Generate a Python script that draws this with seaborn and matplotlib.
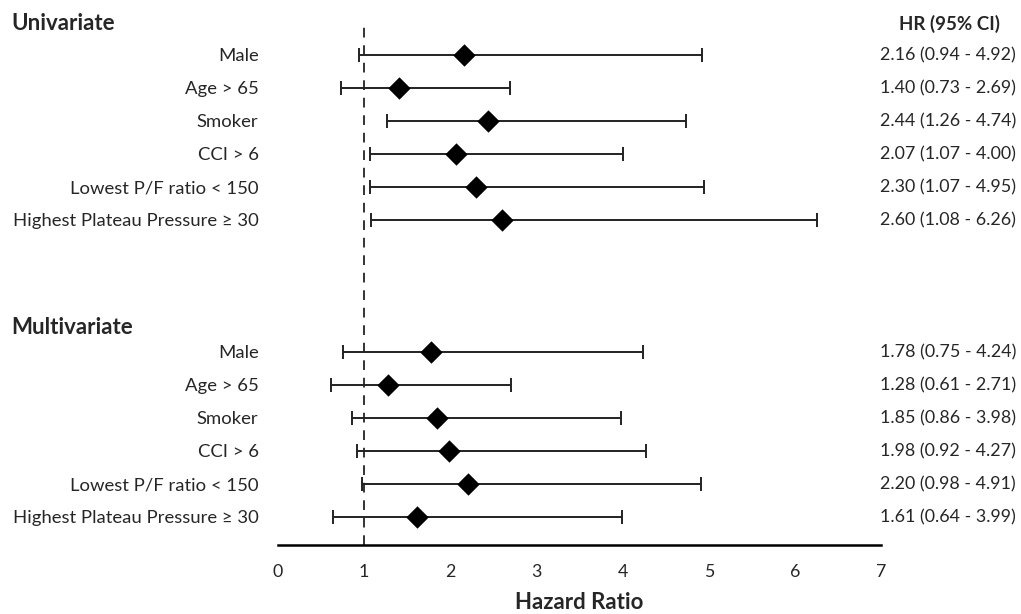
import seaborn as sns
import matplotlib.pyplot as plt
import matplotlib.transforms as mtransforms
import pandas as pd

# 数据
labels = ['Male', 'Age > 65', 'Smoker', 'CCI > 6', 'Lowest P/F ratio < 150',
          'Highest Plateau Pressure \u2265 30']
uni_hr = [2.16, 1.40, 2.44, 2.07, 2.30, 2.60]
uni_lo = [0.94, 0.73, 1.26, 1.07, 1.07, 1.08]
uni_hi = [4.92, 2.69, 4.74, 4.00, 4.95, 6.26]
multi_hr = [1.78, 1.28, 1.85, 1.98, 2.20, 1.61]
multi_lo = [0.75, 0.61, 0.86, 0.92, 0.98, 0.64]
multi_hi = [4.24, 2.71, 3.98, 4.27, 4.91, 3.99]
x_ticks = [0, 1, 2, 3, 4, 5, 6, 7]

sns.set_style('white')
plt.rcParams['font.family'] = ['Lato', 'DejaVu Sans']

rows = []
for i in range(6):
    rows.append(dict(label=labels[i], hr=uni_hr[i], lo=uni_lo[i], hi=uni_hi[i], pos=i))
for i in range(6):
    rows.append(dict(label=labels[i], hr=multi_hr[i], lo=multi_lo[i], hi=multi_hi[i], pos=i + 9))
df = pd.DataFrame(rows)

fig = plt.figure(figsize=(10.21, 6.14), dpi=100)
ax = fig.add_axes([278 / 1021, 1 - 545 / 614, (881 - 278) / 1021, (545 - 22) / 614])

# 参考线
ax.axvline(1, color='#333333', linestyle=(0, (5, 4)), linewidth=1.4, zorder=1)

# 置信区间
ax.errorbar(df['hr'], df['pos'], xerr=[df['hr'] - df['lo'], df['hi'] - df['hr']],
            fmt='none', ecolor='#222222', elinewidth=1.4, capsize=5, capthick=1.4, zorder=2)
sns.scatterplot(x='hr', y='pos', data=df, marker='D', color='black', s=130,
                edgecolor='black', linewidth=0, zorder=3, ax=ax)

ax.set_xlim(0, 7)
ax.set_ylim(14.85, -1.0)
ax.set_xticks(x_ticks)
ax.set_xticklabels([str(t) for t in x_ticks], fontsize=12.8)
ax.set_yticks(df['pos'])
ax.set_yticklabels(df['label'], fontsize=13.3)
ax.tick_params(axis='y', length=0, pad=14)
ax.tick_params(axis='x', length=0, pad=14)
ax.set_xlabel('Hazard Ratio', fontsize=16, fontweight='bold', labelpad=8)
ax.set_ylabel('')

for s in ['top', 'right', 'left']:
    ax.spines[s].set_visible(False)
ax.spines['bottom'].set_linewidth(1.8)
ax.spines['bottom'].set_color('black')

# 右侧文字
for _, r in df.iterrows():
    ax.text(6.99, r['pos'], f"{r['hr']:.2f} ({r['lo']:.2f} - {r['hi']:.2f})",
            ha='left', va='center', fontsize=12.9, clip_on=False)
ax.text(7.79, -0.95, 'HR (95% CI)', ha='center', va='center', fontsize=13.5,
        fontweight='bold', clip_on=False)

trans = mtransforms.blended_transform_factory(fig.transFigure, ax.transData)
ax.text(11 / 1021, -0.95, 'Univariate', transform=trans, ha='left', va='center',
        fontsize=16, fontweight='bold')
ax.text(11 / 1021, 8.25, 'Multivariate', transform=trans, ha='left', va='center',
        fontsize=16, fontweight='bold')

plt.savefig('out.png', dpi=100)
